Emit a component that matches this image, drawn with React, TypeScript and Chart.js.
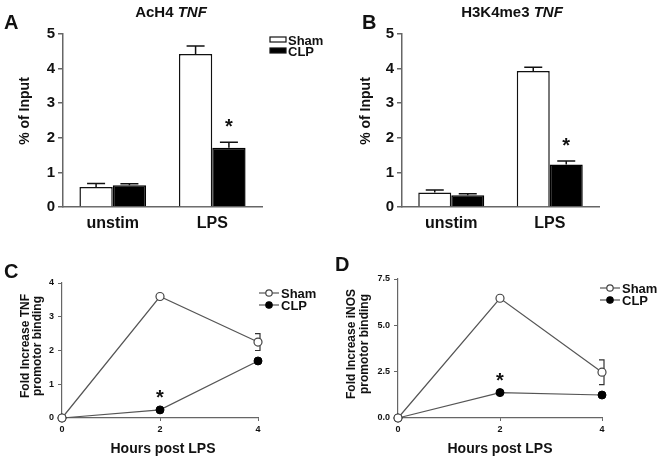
import React, { useEffect, useRef } from "react";
import { Chart, registerables } from "chart.js";

Chart.register(...registerables);

// ---------------- Data ----------------
const barCategories = ["unstim", "LPS"];
const seriesNames = ["Sham", "CLP"];
const barYTicks = [0, 1, 2, 3, 4, 5];

// Panel A: AcH4 TNF (% of Input)
const acH4Sham = [0.58, 4.42];
const acH4ShamErr = [0.1, 0.23];
const acH4Clp = [0.63, 1.71];
const acH4ClpErr = [0.04, 0.16];

// Panel B: H3K4me3 TNF (% of Input)
const h3k4Sham = [0.42, 3.93];
const h3k4ShamErr = [0.07, 0.11];
const h3k4Clp = [0.34, 1.23];
const h3k4ClpErr = [0.04, 0.1];

// Panels C / D: hours post LPS
const hours = [0, 2, 4];
const hourTicks = [0, 2, 4];

const tnfSham = [0, 3.6, 2.25];
const tnfShamErr = [0, 0.03, 0.25];
const tnfClp = [0, 0.24, 1.69];
const tnfClpErr = [0, 0, 0];
const tnfYTicks = [0, 1, 2, 3, 4];

const inosSham = [0, 6.46, 2.47];
const inosShamErr = [0, 0.15, 0.67];
const inosClp = [0, 1.37, 1.24];
const inosClpErr = [0, 0, 0];
const inosYTicks = [0, 2.5, 5, 7.5];

// index of the CLP value marked significant (*)
const barStarIndex = 1;
const lineStarIndex = 1;

// ---------------- Styles ----------------
const FAMILY = '"Liberation Sans", Arial, Helvetica, sans-serif';
const TEXT = "#111";
const AXIS = "#666";
const LINE = "#555";

function f(size: number, italic = false) {
  return `${italic ? "italic " : ""}bold ${size}px ${FAMILY}`;
}

function text(
  ctx: CanvasRenderingContext2D,
  s: string,
  x: number,
  y: number,
  font: string,
  align: CanvasTextAlign = "left",
  rotate = 0
) {
  ctx.save();
  ctx.font = font;
  ctx.fillStyle = TEXT;
  ctx.textAlign = align;
  ctx.textBaseline = "middle";
  ctx.translate(x, y);
  if (rotate) ctx.rotate(rotate);
  ctx.fillText(s, 0, 0);
  ctx.restore();
}

function star(ctx: CanvasRenderingContext2D, x: number, yCenter: number) {
  ctx.save();
  ctx.font = f(20);
  ctx.fillStyle = TEXT;
  ctx.textAlign = "center";
  ctx.textBaseline = "alphabetic";
  ctx.fillText("*", x, yCenter + 11);
  ctx.restore();
}

// ---------------- Bar panels ----------------
type BarParams = {
  sham: number[];
  shamErr: number[];
  clp: number[];
  clpErr: number[];
  letter: string;
  letterPos: [number, number];
  titleMain: string;
  titleItalic: string;
  titleCx: number;
  titleY: number;
  yTitleX: number;
  yTitleCy: number;
  legendPos: [number, number] | null;
  pad: { top: number; right: number };
  yw: number;
  xh: number;
};

function makeBarConfig(p: BarParams): any {
  const errs = [p.shamErr, p.clpErr];
  const overlay = {
    id: "overlay",
    afterDatasetsDraw(chart: any) {
      const ctx: CanvasRenderingContext2D = chart.ctx;
      const ys = chart.scales.y;
      ctx.save();
      ctx.strokeStyle = "#111";
      ctx.lineWidth = 1.5;
      chart.data.datasets.forEach((ds: any, i: number) => {
        const meta = chart.getDatasetMeta(i);
        meta.data.forEach((el: any, j: number) => {
          const v = ds.data[j];
          const e = errs[i][j];
          const y0 = ys.getPixelForValue(v);
          const y1 = ys.getPixelForValue(v + e);
          ctx.beginPath();
          ctx.moveTo(el.x, y0);
          ctx.lineTo(el.x, y1);
          ctx.moveTo(el.x - 9, y1);
          ctx.lineTo(el.x + 9, y1);
          ctx.stroke();
        });
      });
      ctx.restore();
      // asterisk over CLP bar
      const el = chart.getDatasetMeta(1).data[barStarIndex];
      const top = ys.getPixelForValue(p.clp[barStarIndex] + p.clpErr[barStarIndex]);
      star(ctx, el.x, top - 20);
    },
    afterDraw(chart: any) {
      const ctx: CanvasRenderingContext2D = chart.ctx;
      text(ctx, p.letter, p.letterPos[0], p.letterPos[1], f(20));
      // mixed-style title
      ctx.save();
      ctx.font = f(15);
      const w1 = ctx.measureText(p.titleMain + " ").width;
      ctx.font = f(15, true);
      const w2 = ctx.measureText(p.titleItalic).width;
      ctx.restore();
      const x0 = p.titleCx - (w1 + w2) / 2;
      text(ctx, p.titleMain + " ", x0, p.titleY, f(15));
      text(ctx, p.titleItalic, x0 + w1, p.titleY, f(15, true));
      text(ctx, "% of Input", p.yTitleX, p.yTitleCy, f(14), "center", -Math.PI / 2);
      if (p.legendPos) {
        const [lx, ly] = p.legendPos;
        chart.data.datasets.forEach((ds: any, i: number) => {
          const y = ly + i * 11;
          ctx.save();
          ctx.fillStyle = ds.backgroundColor;
          ctx.strokeStyle = "#111";
          ctx.lineWidth = 1.2;
          ctx.fillRect(lx, y - 3, 16, 5);
          ctx.strokeRect(lx, y - 3, 16, 5);
          ctx.restore();
          text(ctx, ds.label, lx + 18, y + 1, f(13));
        });
      }
    },
  };
  return {
    type: "bar",
    data: {
      labels: barCategories,
      datasets: [
        {
          label: seriesNames[0],
          data: p.sham,
          backgroundColor: "#ffffff",
          borderColor: "#111",
          borderWidth: 1.5,
          categoryPercentage: 0.67,
          barPercentage: 1,
        },
        {
          label: seriesNames[1],
          data: p.clp,
          backgroundColor: "#000000",
          borderColor: "#000",
          borderWidth: 1.5,
          categoryPercentage: 0.67,
          barPercentage: 1,
        },
      ],
    },
    options: {
      responsive: false,
      animation: false,
      layout: { padding: { left: 0, top: p.pad.top, right: p.pad.right, bottom: 0 } },
      plugins: { legend: { display: false }, tooltip: { enabled: false } },
      scales: {
        x: {
          grid: { display: false, drawTicks: false },
          border: { display: true, color: AXIS, width: 1.5 },
          ticks: { color: TEXT, font: { family: FAMILY, size: 16, weight: "bold" }, padding: 7 },
          afterFit: (s: any) => {
            s.height = p.xh;
          },
        },
        y: {
          min: 0,
          max: 5,
          afterBuildTicks: (s: any) => {
            s.ticks = barYTicks.map((v) => ({ value: v }));
          },
          grid: {
            display: true,
            drawOnChartArea: false,
            drawTicks: true,
            tickLength: 5,
            color: AXIS,
            lineWidth: 1.5,
          },
          border: { display: true, color: AXIS, width: 1.5 },
          ticks: { color: TEXT, font: { family: FAMILY, size: 15, weight: "bold" }, padding: 3 },
          afterFit: (s: any) => {
            s.width = p.yw;
          },
        },
      },
    },
    plugins: [overlay],
  };
}

// ---------------- Line panels ----------------
type LineParams = {
  sham: number[];
  shamErr: number[];
  clp: number[];
  clpErr: number[];
  yTicks: number[];
  yMax: number;
  decimals: number;
  letter: string;
  letterPos: [number, number];
  yTitle: [string, string];
  yTitleX: [number, number];
  yTitleCy: number;
  xTitleCx: number;
  xTitleY: number;
  legendPos: [number, number];
  pad: { top: number; right: number };
  yw: number;
  xh: number;
};

function makeLineConfig(p: LineParams): any {
  const errs = [p.shamErr, p.clpErr];
  const values = [p.sham, p.clp];
  const overlay = {
    id: "overlay",
    beforeDatasetsDraw(chart: any) {
      const ctx: CanvasRenderingContext2D = chart.ctx;
      const xs = chart.scales.x;
      const ys = chart.scales.y;
      ctx.save();
      ctx.strokeStyle = "#333";
      ctx.lineWidth = 1.2;
      values.forEach((vals, i) => {
        vals.forEach((v, j) => {
          const e = errs[i][j];
          if (!e) return;
          const x = xs.getPixelForValue(hours[j]);
          const yt = ys.getPixelForValue(v + e);
          const yb = ys.getPixelForValue(v - e);
          ctx.beginPath();
          ctx.moveTo(x - 3, yt);
          ctx.lineTo(x + 2, yt);
          ctx.lineTo(x + 2, yb);
          ctx.lineTo(x - 3, yb);
          ctx.stroke();
        });
      });
      ctx.restore();
    },
    afterDraw(chart: any) {
      const ctx: CanvasRenderingContext2D = chart.ctx;
      const xs = chart.scales.x;
      const ys = chart.scales.y;
      star(ctx, xs.getPixelForValue(hours[lineStarIndex]), ys.getPixelForValue(p.clp[lineStarIndex]) - 17);
      text(ctx, p.letter, p.letterPos[0], p.letterPos[1], f(20));
      text(ctx, p.yTitle[0], p.yTitleX[0], p.yTitleCy, f(12), "center", -Math.PI / 2);
      text(ctx, p.yTitle[1], p.yTitleX[1], p.yTitleCy, f(12), "center", -Math.PI / 2);
      text(ctx, "Hours post LPS", p.xTitleCx, p.xTitleY, f(14), "center");
      const [lx, ly] = p.legendPos;
      chart.data.datasets.forEach((ds: any, i: number) => {
        const y = ly + i * 12;
        ctx.save();
        ctx.strokeStyle = LINE;
        ctx.lineWidth = 1.2;
        ctx.beginPath();
        ctx.moveTo(lx, y);
        ctx.lineTo(lx + 20, y);
        ctx.stroke();
        ctx.beginPath();
        ctx.arc(lx + 10, y, 3.2, 0, Math.PI * 2);
        ctx.fillStyle = ds.pointBackgroundColor;
        ctx.fill();
        ctx.strokeStyle = ds.pointBorderColor;
        ctx.stroke();
        ctx.restore();
        text(ctx, ds.label, lx + 22, y + 1, f(13));
      });
    },
  };
  const tickFont = { family: FAMILY, size: 9, weight: "bold" };
  return {
    type: "line",
    data: {
      datasets: [
        {
          label: seriesNames[0],
          data: hours.map((h, i) => ({ x: h, y: p.sham[i] })),
          borderColor: LINE,
          borderWidth: 1.2,
          pointRadius: 4,
          pointBackgroundColor: "#ffffff",
          pointBorderColor: "#444",
          pointBorderWidth: 1.2,
          clip: false,
          tension: 0,
        },
        {
          label: seriesNames[1],
          data: hours.map((h, i) => ({ x: h, y: p.clp[i] })),
          borderColor: LINE,
          borderWidth: 1.2,
          pointRadius: 4,
          pointBackgroundColor: "#000000",
          pointBorderColor: "#000",
          pointBorderWidth: 1,
          clip: false,
          tension: 0,
        },
      ],
    },
    options: {
      responsive: false,
      animation: false,
      layout: { padding: { left: 0, top: p.pad.top, right: p.pad.right, bottom: 0 } },
      plugins: { legend: { display: false }, tooltip: { enabled: false } },
      scales: {
        x: {
          type: "linear",
          min: 0,
          max: 4,
          afterBuildTicks: (s: any) => {
            s.ticks = hourTicks.map((v) => ({ value: v }));
          },
          grid: { display: true, drawOnChartArea: false, drawTicks: true, tickLength: 3, color: AXIS, lineWidth: 1 },
          border: { display: true, color: AXIS, width: 1.2 },
          ticks: { color: TEXT, font: tickFont, padding: 3 },
          afterFit: (s: any) => {
            s.height = p.xh;
          },
        },
        y: {
          min: 0,
          max: p.yMax,
          afterBuildTicks: (s: any) => {
            s.ticks = p.yTicks.map((v) => ({ value: v }));
          },
          grid: { display: true, drawOnChartArea: false, drawTicks: true, tickLength: 4, color: AXIS, lineWidth: 1 },
          border: { display: true, color: AXIS, width: 1.2 },
          ticks: {
            color: TEXT,
            font: tickFont,
            padding: 4,
            callback: (v: any) => Number(v).toFixed(p.decimals),
          },
          afterFit: (s: any) => {
            s.width = p.yw;
          },
        },
      },
    },
    plugins: [overlay],
  };
}

// ---------------- Components ----------------
function Panel(props: { left: number; top: number; width: number; height: number; config: () => any }) {
  const ref = useRef<HTMLCanvasElement>(null);
  useEffect(() => {
    const chart = new Chart(ref.current as HTMLCanvasElement, props.config());
    return () => chart.destroy();
  }, []);
  return (
    <canvas
      ref={ref}
      width={props.width}
      height={props.height}
      style={{ position: "absolute", left: props.left, top: props.top, width: props.width, height: props.height }}
    />
  );
}

export default function App() {
  return (
    <div style={{ position: "fixed", left: 0, top: 0, width: 661, height: 463, background: "#fff", overflow: "hidden" }}>
      <Panel
        left={0}
        top={0}
        width={330}
        height={240}
        config={() =>
          makeBarConfig({
            sham: acH4Sham,
            shamErr: acH4ShamErr,
            clp: acH4Clp,
            clpErr: acH4ClpErr,
            letter: "A",
            letterPos: [4, 23],
            titleMain: "AcH4",
            titleItalic: "TNF",
            titleCx: 171,
            titleY: 13,
            yTitleX: 25,
            yTitleCy: 111,
            legendPos: [270, 40],
            pad: { top: 34, right: 68 },
            yw: 63,
            xh: 33,
          })
        }
      />
      <Panel
        left={330}
        top={0}
        width={331}
        height={240}
        config={() =>
          makeBarConfig({
            sham: h3k4Sham,
            shamErr: h3k4ShamErr,
            clp: h3k4Clp,
            clpErr: h3k4ClpErr,
            letter: "B",
            letterPos: [32, 23],
            titleMain: "H3K4me3",
            titleItalic: "TNF",
            titleCx: 182,
            titleY: 13,
            yTitleX: 36,
            yTitleCy: 111,
            legendPos: null,
            pad: { top: 34, right: 62 },
            yw: 72,
            xh: 33,
          })
        }
      />
      <Panel
        left={0}
        top={240}
        width={330}
        height={223}
        config={() =>
          makeLineConfig({
            sham: tnfSham,
            shamErr: tnfShamErr,
            clp: tnfClp,
            clpErr: tnfClpErr,
            yTicks: tnfYTicks,
            yMax: 4,
            decimals: 0,
            letter: "C",
            letterPos: [4, 32],
            yTitle: ["Fold Increase TNF", "promotor binding"],
            yTitleX: [26, 38],
            yTitleCy: 106,
            xTitleCx: 163,
            xTitleY: 209,
            legendPos: [259, 53],
            pad: { top: 43, right: 72 },
            yw: 62,
            xh: 45,
          })
        }
      />
      <Panel
        left={330}
        top={240}
        width={331}
        height={223}
        config={() =>
          makeLineConfig({
            sham: inosSham,
            shamErr: inosShamErr,
            clp: inosClp,
            clpErr: inosClpErr,
            yTicks: inosYTicks,
            yMax: 7.5,
            decimals: 1,
            letter: "D",
            letterPos: [5, 25],
            yTitle: ["Fold Increase iNOS", "promotor binding"],
            yTitleX: [22, 35],
            yTitleCy: 104,
            xTitleCx: 170,
            xTitleY: 209,
            legendPos: [270, 48],
            pad: { top: 39, right: 59 },
            yw: 68,
            xh: 45,
          })
        }
      />
    </div>
  );
}
